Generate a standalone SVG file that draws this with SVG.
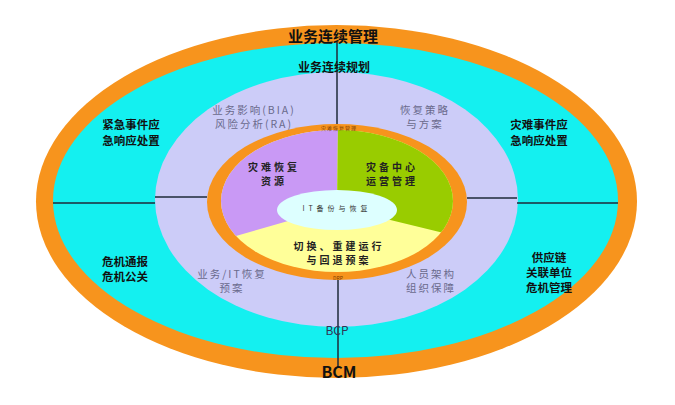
<svg xmlns="http://www.w3.org/2000/svg" width="675" height="405" viewBox="0 0 675 405">
<style>
text{font-family:"Noto Sans CJK SC","Liberation Sans",sans-serif;text-anchor:middle;dominant-baseline:central}
.b{font-weight:bold;fill:#111}
.g{font-size:10.5px;fill:#6a6a8c;letter-spacing:2px}
.s{font-size:10px;font-weight:bold;fill:#222;letter-spacing:3px}
.c{font-size:11.5px;font-weight:bold;fill:#111}
.ln{stroke:#1e2a3a;stroke-width:1.5;fill:none}
</style>
<defs>
<clipPath id="pieClip"><ellipse cx="337" cy="201" rx="116" ry="71"/></clipPath>
</defs>
<rect width="675" height="405" fill="#ffffff"/>
<g id="ring-bcm"><ellipse cx="336.5" cy="201.5" rx="300.5" ry="176.5" fill="#F7941D"/></g>
<g id="ring-cyan"><ellipse cx="335.5" cy="200.5" rx="282.5" ry="157.5" fill="#14F0F0"/></g>
<g id="ring-bcp"><ellipse cx="336.5" cy="199.5" rx="181.5" ry="127.5" fill="#CCCCF8"/></g>
<g id="ring-drp"><ellipse cx="337" cy="202" rx="130" ry="78" fill="#F7941D"/></g>
<g id="pie">
<g clip-path="url(#pieClip)">
<rect x="215" y="125" width="245" height="150" fill="#FFFF99"/>
<polygon points="337,207 338,125 215,125 215,242" fill="#C999F5"/>
<polygon points="337,207 338,125 460,125 460,237" fill="#99CC00"/>
</g>
</g>
<g id="center"><ellipse cx="337" cy="210" rx="60" ry="20" fill="#DDFFFF"/></g>
<g id="connectors">
<line class="ln" x1="337" y1="42" x2="337" y2="124"/>
<line class="ln" x1="338" y1="280" x2="338" y2="368"/>
<line class="ln" x1="53" y1="203" x2="155" y2="203"/>
<line class="ln" x1="155" y1="197" x2="207" y2="197"/>
<line class="ln" x1="467" y1="198" x2="517" y2="198"/>
<line class="ln" x1="517" y1="203" x2="618" y2="203"/>
</g>
<g id="label-bcm-title"><text class="b" x="333" y="35" font-size="15">业务连续管理</text></g>
<g id="label-bcp-title"><text class="b" x="334" y="66" font-size="12">业务连续规划</text></g>
<g id="node-bia"><text class="g" x="254" y="109">业务影响(BIA)</text><text class="g" x="254" y="123">风险分析(RA)</text></g>
<g id="node-strategy"><text class="g" x="425" y="109">恢复策略</text><text class="g" x="425" y="123">与方案</text></g>
<g id="node-it-plan"><text class="g" x="232" y="273">业务/IT恢复</text><text class="g" x="232" y="287">预案</text></g>
<g id="node-org"><text class="g" x="431" y="273">人员架构</text><text class="g" x="431" y="287">组织保障</text></g>
<g id="node-resource"><text class="s" x="274" y="166">灾难恢复</text><text class="s" x="274" y="180">资源</text></g>
<g id="node-center-ops"><text class="s" x="392" y="166">灾备中心</text><text class="s" x="392" y="180">运营管理</text></g>
<g id="node-switch"><text class="s" x="339" y="245">切换、重建运行</text><text class="s" x="339" y="259">与回退预案</text></g>
<g id="node-it-backup"><text x="337" y="208" font-size="7" fill="#333" letter-spacing="4">IT备份与恢复</text></g>
<g id="label-drp-top"><text x="339" y="127" font-size="5" fill="#7a3b00" letter-spacing="1">灾难恢复管理</text></g>
<g id="label-drp-bottom"><text x="338" y="277" font-size="5" fill="#7a3b00">DRP</text></g>
<g id="node-emergency"><text class="c" x="131" y="124">紧急事件应</text><text class="c" x="131" y="140">急响应处置</text></g>
<g id="node-disaster"><text class="c" x="539" y="124">灾难事件应</text><text class="c" x="539" y="140">急响应处置</text></g>
<g id="node-crisis"><text class="c" x="125" y="261">危机通报</text><text class="c" x="125" y="276">危机公关</text></g>
<g id="node-supply"><text class="c" x="549" y="257" font-size="11">供应链</text><text class="c" x="549" y="272" font-size="11">关联单位</text><text class="c" x="549" y="287" font-size="11">危机管理</text></g>
<g id="label-bcp"><text x="337" y="329" font-size="12" fill="#333355" font-family="Liberation Sans,sans-serif">BCP</text></g>
<g id="label-bcm"><text x="339" y="371" font-size="16" font-weight="bold" fill="#111" font-family="Liberation Sans,sans-serif">BCM</text></g>
</svg>
